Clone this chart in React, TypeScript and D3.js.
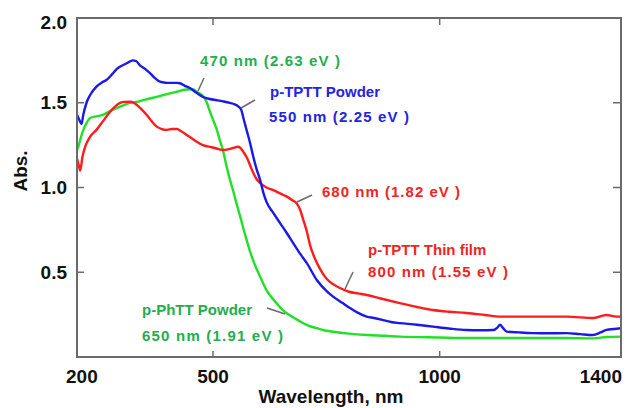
import React from "react";
import * as d3 from "d3";

// ---- Data (wavelength nm, absorbance) ----
const tpttPowder: [number, number][] = [
  [200, 1.43], [205, 1.40], [210, 1.375], [214, 1.43], [221, 1.50], [230, 1.55], [243, 1.595],
  [255, 1.62], [265, 1.634], [278, 1.67], [288, 1.70], [300, 1.72], [310, 1.733], [323, 1.75],
  [331, 1.745], [339, 1.72], [350, 1.70], [361, 1.675], [372, 1.645], [383, 1.624], [395, 1.618],
  [405, 1.617], [420, 1.617], [427, 1.615], [438, 1.60], [449, 1.587], [463, 1.56], [478, 1.534],
  [493, 1.522], [508, 1.515], [522, 1.508], [537, 1.499], [548, 1.49], [555, 1.48], [562, 1.46],
  [568, 1.40], [574, 1.34], [582, 1.26], [589, 1.18], [596, 1.11], [604, 1.044], [611, 0.97],
  [618, 0.915], [633, 0.85], [648, 0.79], [663, 0.73], [677, 0.672], [692, 0.61], [707, 0.554],
  [729, 0.454], [750, 0.39], [765, 0.356], [785, 0.32], [802, 0.289], [820, 0.26], [839, 0.238],
  [855, 0.23], [875, 0.218], [895, 0.205], [912, 0.2], [950, 0.19], [985, 0.179], [1020, 0.168],
  [1059, 0.159], [1090, 0.158], [1118, 0.159], [1128, 0.175], [1133, 0.19], [1140, 0.17],
  [1148, 0.15], [1175, 0.145], [1206, 0.141], [1240, 0.14], [1280, 0.141], [1310, 0.135],
  [1338, 0.13], [1355, 0.145], [1368, 0.16], [1385, 0.165], [1400, 0.17],
];

const tpttFilm: [number, number][] = [
  [200, 1.17], [204, 1.13], [207, 1.10], [212, 1.18], [218, 1.24], [229, 1.30], [243, 1.34],
  [257, 1.39], [273, 1.447], [285, 1.48], [295, 1.499], [305, 1.505], [317, 1.506], [325, 1.50],
  [332, 1.487], [343, 1.46], [354, 1.428], [365, 1.39], [376, 1.359], [387, 1.345], [398, 1.34],
  [410, 1.345], [420, 1.345], [431, 1.33], [442, 1.31], [453, 1.29], [464, 1.27], [478, 1.25],
  [493, 1.24], [508, 1.23], [522, 1.221], [533, 1.225], [544, 1.233], [555, 1.24], [560, 1.235],
  [567, 1.21], [574, 1.18], [582, 1.13], [589, 1.085], [596, 1.05], [604, 1.026], [618, 1.0],
  [633, 0.985], [648, 0.965], [663, 0.946], [675, 0.925], [685, 0.905], [692, 0.87], [699, 0.81],
  [707, 0.74], [714, 0.66], [725, 0.58], [736, 0.52], [751, 0.46], [765, 0.43], [780, 0.407],
  [800, 0.385], [820, 0.375], [839, 0.366], [870, 0.345], [912, 0.318], [950, 0.295], [985, 0.277],
  [1020, 0.267], [1059, 0.26], [1100, 0.248], [1133, 0.238], [1200, 0.238], [1280, 0.238],
  [1340, 0.23], [1368, 0.248], [1385, 0.24], [1400, 0.238],
];

const phttPowder: [number, number][] = [
  [200, 1.22], [204, 1.25], [207, 1.28], [214, 1.34], [221, 1.38], [229, 1.41], [243, 1.42],
  [257, 1.428], [272, 1.45], [288, 1.469], [302, 1.485], [317, 1.499], [331, 1.505], [346, 1.515],
  [361, 1.525], [376, 1.535], [390, 1.545], [405, 1.555], [420, 1.565], [434, 1.575], [449, 1.58],
  [457, 1.578], [464, 1.565], [471, 1.555], [478, 1.54], [485, 1.51], [493, 1.45], [500, 1.40],
  [508, 1.345], [515, 1.28], [522, 1.22], [530, 1.123], [537, 1.05], [544, 0.985], [552, 0.905],
  [560, 0.828], [571, 0.72], [582, 0.62], [593, 0.54], [604, 0.474], [618, 0.395], [636, 0.33],
  [654, 0.277], [673, 0.24], [692, 0.21], [710, 0.185], [729, 0.17], [750, 0.155], [765, 0.149],
  [800, 0.138], [839, 0.13], [880, 0.125], [912, 0.12], [1000, 0.115], [1059, 0.112], [1133, 0.112],
  [1200, 0.112], [1280, 0.112], [1340, 0.11], [1368, 0.118], [1400, 0.12],
];

const xTicks = [200, 500, 1000, 1400];
const yTicks = [0.5, 1.0, 1.5, 2.0];

const W = 634;
const H = 408;
const M = { left: 77, right: 621, top: 18, bottom: 357 };

const FRAME = "#6b6b6b";
const FONT = "'Liberation Sans', Arial, sans-serif";

export default function App() {
  const x = d3.scaleLinear().domain([200, 1400]).range([M.left, M.right]);
  const y = d3.scaleLinear().domain([0, 2]).range([M.bottom, M.top]);
  const line = d3
    .line<[number, number]>()
    .x((d) => x(d[0]))
    .y((d) => y(d[1]))
    .curve(d3.curveMonotoneX);

  const series = [
    { data: phttPowder, color: "#22e02a" },
    { data: tpttFilm, color: "#ff1c1c" },
    { data: tpttPowder, color: "#1a1ae8" },
  ];

  const xLabelAnchor = (v: number) => (v === 200 ? "start" : v === 1400 ? "end" : "middle");
  const xLabelX = (v: number) => (v === 200 ? 66 : v === 1400 ? 622 : x(v));

  const green = "#24ad4e";
  const blue = "#2323e0";
  const red = "#f02424";
  const annFont = { fontFamily: FONT, fontSize: 15, fontWeight: 700 as const };

  return (
    <svg
      width={W}
      height={H}
      style={{ position: "absolute", left: 0, top: 0, background: "#fff" }}
    >
      {/* curves */}
      <g>
        {series.map((s, i) => (
          <path
            key={i}
            d={line(s.data) || ""}
            fill="none"
            stroke={s.color}
            strokeWidth={2.4}
            strokeLinejoin="round"
          />
        ))}
      </g>

      {/* frame */}
      <rect
        x={M.left}
        y={M.top}
        width={M.right - M.left}
        height={M.bottom - M.top}
        fill="none"
        stroke={FRAME}
        strokeWidth={2}
      />

      {/* ticks */}
      {[500, 1000].map((v) => (
        <g key={"xt" + v}>
          <line x1={x(v)} x2={x(v)} y1={M.bottom} y2={M.bottom - 6} stroke={FRAME} strokeWidth={1.5} />
          <line x1={x(v)} x2={x(v)} y1={M.top} y2={M.top + 7} stroke={FRAME} strokeWidth={1.5} />
        </g>
      ))}
      {[0.5, 1.0, 1.5].map((v) => (
        <g key={"yt" + v}>
          <line x1={M.left} x2={M.left + 7} y1={y(v)} y2={y(v)} stroke={FRAME} strokeWidth={1.5} />
          <line x1={M.right} x2={M.right - 8} y1={y(v)} y2={y(v)} stroke={FRAME} strokeWidth={1.5} />
        </g>
      ))}

      {/* tick labels */}
      {xTicks.map((v) => (
        <text
          key={"xl" + v}
          x={xLabelX(v)}
          y={383}
          textAnchor={xLabelAnchor(v)}
          fontFamily={FONT}
          fontSize={19}
          fontWeight={700}
          fill="#111"
        >
          {v}
        </text>
      ))}
      {yTicks.map((v) => (
        <text
          key={"yl" + v}
          x={67}
          y={v === 2 ? 22 : y(v)}
          dy="0.35em"
          textAnchor="end"
          fontFamily={FONT}
          fontSize={19}
          fontWeight={700}
          fill="#111"
        >
          {v.toFixed(1)}
        </text>
      ))}

      {/* axis titles */}
      <text
        x={331}
        y={403}
        textAnchor="middle"
        fontFamily={FONT}
        fontSize={19}
        fontWeight={700}
        fill="#111"
      >
        Wavelength, nm
      </text>
      <text
        transform="translate(27,171) rotate(-90)"
        textAnchor="middle"
        fontFamily={FONT}
        fontSize={19}
        fontWeight={700}
        fill="#111"
      >
        Abs.
      </text>

      {/* leader lines */}
      <g stroke="#6a6a6a" strokeWidth={1.5}>
        <line x1={204} y1={78} x2={198} y2={91} />
        <line x1={255} y1={100} x2={241} y2={108} />
        <line x1={312} y1={195} x2={297} y2={202} />
        <line x1={353} y1={272} x2={345} y2={289} />
        <line x1={267} y1={308} x2={285} y2={314} />
      </g>

      {/* annotations */}
      <text x={200} y={66} fill={green} {...annFont} textLength={140} lengthAdjust="spacing">
        470 nm (2.63 eV )
      </text>
      <text x={270} y={97} fill={blue} {...annFont}>
        p-TPTT Powder
      </text>
      <text x={269} y={122} fill={blue} {...annFont} textLength={140} lengthAdjust="spacing">
        550 nm (2.25 eV )
      </text>
      <text x={322} y={197} fill={red} {...annFont} textLength={138} lengthAdjust="spacing">
        680 nm (1.82 eV )
      </text>
      <text x={368} y={255} fill={red} {...annFont}>
        p-TPTT Thin film
      </text>
      <text x={368} y={277} fill={red} {...annFont} textLength={140} lengthAdjust="spacing">
        800 nm (1.55 eV )
      </text>
      <text x={142} y={315} fill={green} {...annFont}>
        p-PhTT Powder
      </text>
      <text x={142} y={341} fill={green} {...annFont} textLength={141} lengthAdjust="spacing">
        650 nm (1.91 eV )
      </text>
    </svg>
  );
}
